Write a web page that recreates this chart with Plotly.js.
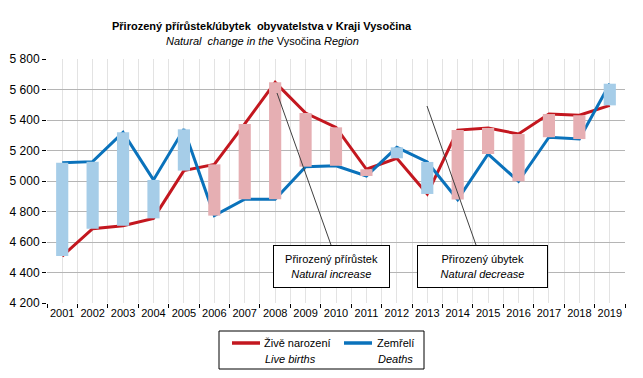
<!DOCTYPE html>
<html>
<head>
<meta charset="utf-8">
<script src="https://cdn.plot.ly/plotly-3.0.1.min.js"></script>
<style>html,body{margin:0;padding:0;background:#fff;}#chart{width:643px;height:378px;}</style>
</head>
<body>
<div id="chart"></div>
<script>
const years = [2001, 2002, 2003, 2004, 2005, 2006, 2007, 2008, 2009, 2010, 2011, 2012, 2013, 2014, 2015, 2016, 2017, 2018, 2019];
const births = [4508, 4687, 4707, 4755, 5068, 5109, 5374, 5647, 5446, 5352, 5077, 5149, 4915, 5334, 5348, 5308, 5439, 5431, 5496];
const deaths = [5120, 5127, 5319, 5007, 5339, 4773, 4880, 4880, 5094, 5100, 5033, 5221, 5125, 4878, 5177, 4998, 5287, 5275, 5638];
const tickLabels = years.map(String);

const FONT = 'Liberation Sans, Arial, sans-serif';
const RED = '#c3171f';
const BLUE = '#0a72bb';
const PINK = '#e6afb3';
const LBLUE = '#a6cde8';

const base = births.map((b, i) => Math.min(b, deaths[i]));
const diff = births.map((b, i) => Math.abs(b - deaths[i]));
const barColors = births.map((b, i) => b >= deaths[i] ? PINK : LBLUE);

const traces = [
  {type: 'scatter', mode: 'lines', x: years, y: births, name: 'Živě narození',
   line: {color: RED, width: 3}, showlegend: false, hoverinfo: 'skip', zorder: 0},
  {type: 'scatter', mode: 'lines', x: years, y: deaths, name: 'Zemřelí',
   line: {color: BLUE, width: 3}, showlegend: false, hoverinfo: 'skip', zorder: 0},
  {type: 'bar', x: years, y: diff, base: base, width: 0.4,
   marker: {color: barColors, line: {width: 0}}, showlegend: false, hoverinfo: 'skip', zorder: 1}
];

const px = v => (v - 47) / 578;
const py = v => (303 - v) / 244;

const layout = {
  width: 643, height: 378,
  margin: {l: 47, r: 18, t: 59, b: 75, pad: 0},
  paper_bgcolor: '#fff', plot_bgcolor: '#fff',
  separators: ', ',
  font: {family: FONT, color: '#000', size: 11},
  showlegend: false,
  xaxis: {
    type: 'linear', range: [2000.5, 2019.5],
    tickvals: years, ticktext: tickLabels,
    ticks: '', showgrid: true, gridcolor: '#e3e3e3', gridwidth: 1,
    minor: {tick0: 2000.5, dtick: 1, ticks: 'outside', ticklen: 4, tickcolor: '#000', tickwidth: 1,
            showgrid: true, gridcolor: '#e3e3e3', gridwidth: 1},
    showline: true, linecolor: '#000', linewidth: 1, mirror: true, zeroline: false,
    tickfont: {family: FONT, size: 11, color: '#000'}, fixedrange: true
  },
  yaxis: {
    range: [4200, 5800], tick0: 4200, dtick: 200, tickformat: ',d',
    ticks: 'outside', ticklen: 4, tickcolor: '#000', tickwidth: 1,
    showgrid: true, gridcolor: '#b5b5b5', gridwidth: 1,
    showline: true, linecolor: '#000', linewidth: 1, mirror: true, zeroline: false,
    tickfont: {family: FONT, size: 12, color: '#000'}, fixedrange: true
  },
  shapes: [
    {type: 'line', xref: 'paper', yref: 'paper', x0: px(277), y0: py(93), x1: px(331), y1: py(245),
     line: {color: '#404040', width: 1}},
    {type: 'line', xref: 'paper', yref: 'paper', x0: px(427), y0: py(106), x1: px(476), y1: py(245),
     line: {color: '#404040', width: 1}},
    {type: 'rect', xref: 'paper', yref: 'paper', x0: px(219), y0: py(369), x1: px(424), y1: py(331),
     line: {color: '#000', width: 1}, fillcolor: 'rgba(0,0,0,0)'},
    {type: 'line', xref: 'paper', yref: 'paper', x0: px(232), y0: py(343), x1: px(260), y1: py(343),
     line: {color: RED, width: 3.5}},
    {type: 'line', xref: 'paper', yref: 'paper', x0: px(344), y0: py(343), x1: px(372), y1: py(343),
     line: {color: BLUE, width: 3.5}}
  ],
  annotations: [
    {xref: 'paper', yref: 'paper', x: px(262), y: py(26), xanchor: 'center', yanchor: 'middle', showarrow: false,
     text: '<b>Přirozený přírůstek/úbytek\u00a0 obyvatelstva v Kraji Vysočina</b>', font: {family: FONT, size: 11, color: '#000'}},
    {xref: 'paper', yref: 'paper', x: px(262), y: py(41), xanchor: 'center', yanchor: 'middle', showarrow: false,
     text: '<i>Natural\u00a0 change in the</i> Vysočina <i>Region</i>', font: {family: FONT, size: 11, color: '#000'}},
    {xref: 'paper', yref: 'paper', x: px(331.5), y: py(266.5), xanchor: 'center', yanchor: 'middle', showarrow: false,
     text: 'Přirozený přírůstek<br><i>Natural increase</i>', align: 'center',
     width: 113, height: 39, bgcolor: '#fff', bordercolor: '#000', borderwidth: 1, borderpad: 1,
     font: {family: FONT, size: 11, color: '#000'}},
    {xref: 'paper', yref: 'paper', x: px(482.5), y: py(266.5), xanchor: 'center', yanchor: 'middle', showarrow: false,
     text: 'Přirozený úbytek<br><i>Natural decrease</i>', align: 'center',
     width: 127, height: 39, bgcolor: '#fff', bordercolor: '#000', borderwidth: 1, borderpad: 1,
     font: {family: FONT, size: 11, color: '#000'}},
    {xref: 'paper', yref: 'paper', x: px(262), y: py(343), xanchor: 'left', yanchor: 'middle', showarrow: false,
     text: 'Živě narození', font: {family: FONT, size: 11, color: '#000'}},
    {xref: 'paper', yref: 'paper', x: px(263), y: py(359), xanchor: 'left', yanchor: 'middle', showarrow: false,
     text: '<i>Live births</i>', font: {family: FONT, size: 11, color: '#000'}},
    {xref: 'paper', yref: 'paper', x: px(375), y: py(343), xanchor: 'left', yanchor: 'middle', showarrow: false,
     text: 'Zemřelí', font: {family: FONT, size: 11, color: '#000'}},
    {xref: 'paper', yref: 'paper', x: px(415), y: py(359), xanchor: 'right', yanchor: 'middle', showarrow: false,
     text: '<i>Deaths</i>', font: {family: FONT, size: 11, color: '#000'}}
  ]
};

Plotly.newPlot('chart', traces, layout, {staticPlot: true, displayModeBar: false});
</script>
</body>
</html>
